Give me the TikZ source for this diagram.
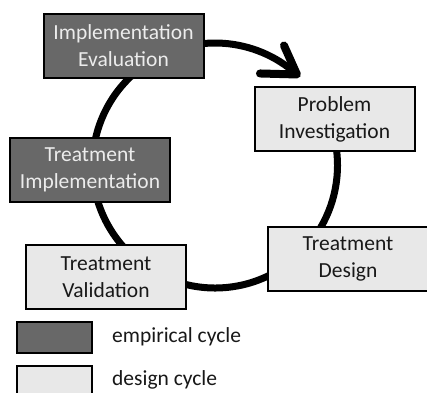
\documentclass[tikz,border=0pt]{standalone}
\usepackage{fontspec}
\setmainfont{Carlito}
\usetikzlibrary{calc}
\definecolor{empfill}{RGB}{104,104,104}
\definecolor{empText}{RGB}{236,236,236}
\definecolor{desfill}{RGB}{232,232,232}
\definecolor{desText}{RGB}{24,24,24}
\begin{document}
\begin{tikzpicture}[x=1pt,y=-1pt,
  phase/.style={draw=black, line width=2pt, inner sep=0pt, align=center,
    minimum width=160pt, minimum height=64pt,
    font=\fontsize{21.5}{27}\selectfont},
  empirical/.style={phase, fill=empfill, text=empText},
  design/.style={phase, fill=desfill, text=desText},
  key/.style={draw=black, line width=2pt, inner sep=0pt,
    minimum width=75pt, minimum height=31pt},
  keytext/.style={anchor=base west, inner sep=0pt, text=desText,
    font=\fontsize{21.5}{27}\selectfont},
  cycle/.style={line width=7pt},
  barb/.style={line width=8pt, line cap=round, line join=round}]
\useasboundingbox (0,0) rectangle (427,392);
\fill[white] (0,0) rectangle (427,392);

% the cycle, running clockwise and ending in an open arrowhead
\coordinate (c) at (215,165.5);
\draw[cycle] (c) ++(-34:122.5) coordinate (start)
  arc[start angle=-34, end angle=312, radius=122.5] coordinate (tip);
\draw[barb] ($(tip)+(-13,-29)$) -- (tip) -- ($(tip)+(-37,-1)$);

% phases
\node[empirical] (ie) at (123.5,46) {Implementation\\Evaluation};
\node[design]    (pi) at (334.5,119) {Problem\\Investigation};
\node[empirical] (ti) at (90,169.5) {Treatment\\Implementation};
\node[design]    (td) at (348,259) {Treatment\\Design};
\node[design]    (tv) at (106,277) {Treatment\\Validation};

% legend
\node[key, fill=empfill] (k1) at (54,337.5) {};
\node[key, fill=desfill, minimum height=36pt] (k2) at (54,384) {};
\node[keytext] (l1) at (112,342) {empirical cycle};
\node[keytext] (l2) at (112,385) {design cycle};
\end{tikzpicture}
\end{document}
